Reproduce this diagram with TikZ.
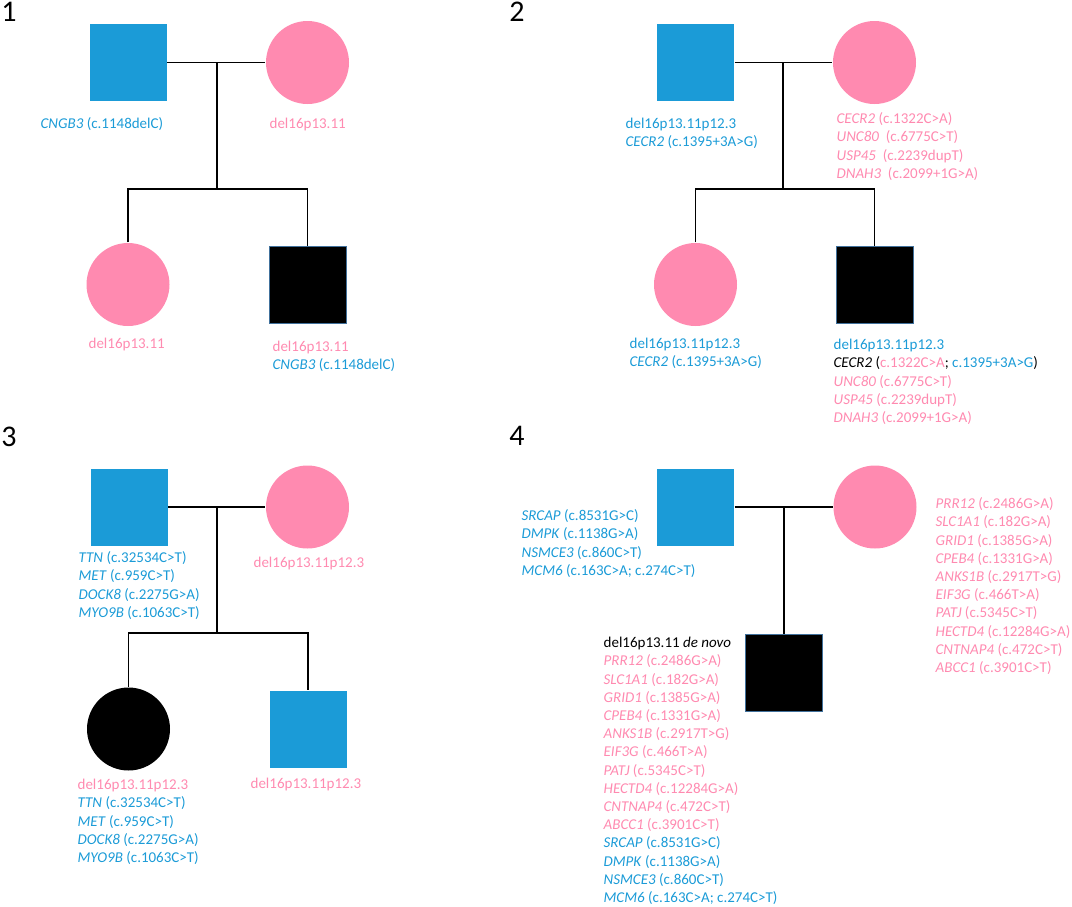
\documentclass[tikz,border=0pt]{standalone}
\usepackage{fontspec}
\setmainfont{Carlito}
\definecolor{pedblue}{HTML}{1B9BD7}
\definecolor{pedpink}{HTML}{FF8AB0}
\definecolor{pedrim}{HTML}{41719C}
\newcommand{\gn}[1]{\textit{#1}}
\begin{document}
\begin{tikzpicture}[x=1pt, y=-1pt, line width=1.3pt,
  male/.style={rectangle,minimum size=77pt,inner sep=0pt},
  female/.style={circle,minimum size=83pt,inner sep=0pt},
  lab/.style={anchor=north west,align=left,inner sep=0pt,font=\fontsize{15}{18.2}\selectfont},
  num/.style={inner sep=0pt,font=\fontsize{30}{32}\selectfont}]
\useasboundingbox (0,0) rectangle (1072,906);
% panel numbers
\node [num] (n1) at (9,12) {1};
\node [num] (n2) at (517,12) {2};
\node [num] (n3) at (9,437) {3};
\node [num] (n4) at (517,436) {4};
% family 1
\node [male,fill=pedblue] (f1) at (128,62.5) {};
\node [female,fill=pedpink] (m1) at (307.5,62.5) {};
\node [female,fill=pedpink] (d1) at (128,284.5) {};
\node [male,fill=black,draw=pedrim,line width=.5pt] (s1) at (307.5,285) {};
\coordinate (k1) at (217,189);
\draw (f1.east) -- (m1.west);
\draw (k1 |- f1) -- (k1);
\draw (d1.north) |- (k1) -| (s1.north);
\node [lab,text=pedblue] (f1lab) at (40,115.3) {\strut\gn{CNGB3} (c.1148delC)};
\node [lab,text=pedpink] (m1lab) at (269,115.3) {\strut del16p13.11};
\node [lab,text=pedpink] (d1lab) at (88,335.3) {\strut del16p13.11};
\node [lab,text=pedblue] (s1lab) at (272,338.3) {\strut\textcolor{pedpink}{del16p13.11}\\\gn{CNGB3} (c.1148delC)};
% family 2
\node [male,fill=pedblue] (f2) at (695.5,62.5) {};
\node [female,fill=pedpink] (m2) at (874.5,62.5) {};
\node [female,fill=pedpink] (d2) at (695.5,284.5) {};
\node [male,fill=black,draw=pedrim,line width=.5pt] (s2) at (874.5,285) {};
\coordinate (k2) at (783,189);
\draw (f2.east) -- (m2.west);
\draw (k2 |- f2) -- (k2);
\draw (d2.north) |- (k2) -| (s2.north);
\node [lab,text=pedblue] (f2lab) at (625,115.3) {\strut del16p13.11p12.3\\\gn{CECR2} (c.1395+3A>G)};
\node [lab,text=pedpink] (m2lab) at (836,110.3) {\strut\gn{CECR2} (c.1322C>A)\\\gn{UNC80}\ \ (c.6775C>T)\\\gn{USP45}\ \ (c.2239dupT)\\\gn{DNAH3}\ \ (c.2099+1G>A)};
\node [lab,text=pedblue] (d2lab) at (629,335.3) {\strut del16p13.11p12.3\\\gn{CECR2} (c.1395+3A>G)};
\node [lab,text=pedpink] (s2lab) at (833,336.3) {\strut\textcolor{pedblue}{del16p13.11p12.3}\\
  \textcolor{black}{\gn{CECR2} (}c.1322C>A\textcolor{black}{;} \textcolor{pedblue}{c.1395+3A>G}\textcolor{black}{)}\\
  \gn{UNC80} (c.6775C>T)\\\gn{USP45} (c.2239dupT)\\\gn{DNAH3} (c.2099+1G>A)};
% family 3
\node [male,fill=pedblue] (f3) at (129,507) {};
\node [female,fill=pedpink] (m3) at (307.5,507) {};
\node [female,fill=black] (d3) at (128.5,729) {};
\node [male,fill=pedblue] (s3) at (308,729.5) {};
\coordinate (k3) at (217,633);
\draw (f3.east) -- (m3.west);
\draw (k3 |- f3) -- (k3);
\draw (d3.north) |- (k3) -| (s3.north);
\node [lab,text=pedblue] (f3lab) at (78,549.3) {\strut\gn{TTN} (c.32534C>T)\\\gn{MET} (c.959C>T)\\\gn{DOCK8} (c.2275G>A)\\\gn{MYO9B} (c.1063C>T)};
\node [lab,text=pedpink] (m3lab) at (253,554.3) {\strut del16p13.11p12.3};
\node [lab,text=pedblue] (d3lab) at (77,776.3) {\strut\textcolor{pedpink}{del16p13.11p12.3}\\\gn{TTN} (c.32534C>T)\\\gn{MET} (c.959C>T)\\\gn{DOCK8} (c.2275G>A)\\\gn{MYO9B} (c.1063C>T)};
\node [lab,text=pedpink] (s3lab) at (250,775.3) {\strut del16p13.11p12.3};
% family 4
\node [male,fill=pedblue] (f4) at (695.5,507) {};
\node [female,fill=pedpink] (m4) at (875,507) {};
\node [male,fill=black,draw=pedrim,line width=.5pt] (s4) at (784,672.5) {};
\draw (f4.east) -- (m4.west);
\draw (s4.north |- f4) -- (s4.north);
\node [lab,text=pedblue] (f4lab) at (521,507.3) {\strut\gn{SRCAP} (c.8531G>C)\\\gn{DMPK} (c.1138G>A)\\\gn{NSMCE3} (c.860C>T)\\\gn{MCM6} (c.163C>A; c.274C>T)};
\node [lab,text=pedpink] (m4lab) at (935,495.3) {\strut\gn{PRR12} (c.2486G>A)\\\gn{SLC1A1} (c.182G>A)\\\gn{GRID1} (c.1385G>A)\\\gn{CPEB4} (c.1331G>A)\\\gn{ANKS1B} (c.2917T>G)\\\gn{EIF3G} (c.466T>A)\\\gn{PATJ} (c.5345C>T)\\\gn{HECTD4} (c.12284G>A)\\\gn{CNTNAP4} (c.472C>T)\\\gn{ABCC1} (c.3901C>T)};
\node [lab,text=pedpink] (s4lab) at (603,634.3) {\strut\textcolor{black}{del16p13.11 \gn{de novo}}\\
  \gn{PRR12} (c.2486G>A)\\\gn{SLC1A1} (c.182G>A)\\\gn{GRID1} (c.1385G>A)\\\gn{CPEB4} (c.1331G>A)\\\gn{ANKS1B} (c.2917T>G)\\\gn{EIF3G} (c.466T>A)\\\gn{PATJ} (c.5345C>T)\\\gn{HECTD4} (c.12284G>A)\\\gn{CNTNAP4} (c.472C>T)\\\gn{ABCC1} (c.3901C>T)\\
  \textcolor{pedblue}{\gn{SRCAP} (c.8531G>C)}\\\textcolor{pedblue}{\gn{DMPK} (c.1138G>A)}\\\textcolor{pedblue}{\gn{NSMCE3} (c.860C>T)}\\\textcolor{pedblue}{\gn{MCM6} (c.163C>A; c.274C>T)}};
\end{tikzpicture}
\end{document}
